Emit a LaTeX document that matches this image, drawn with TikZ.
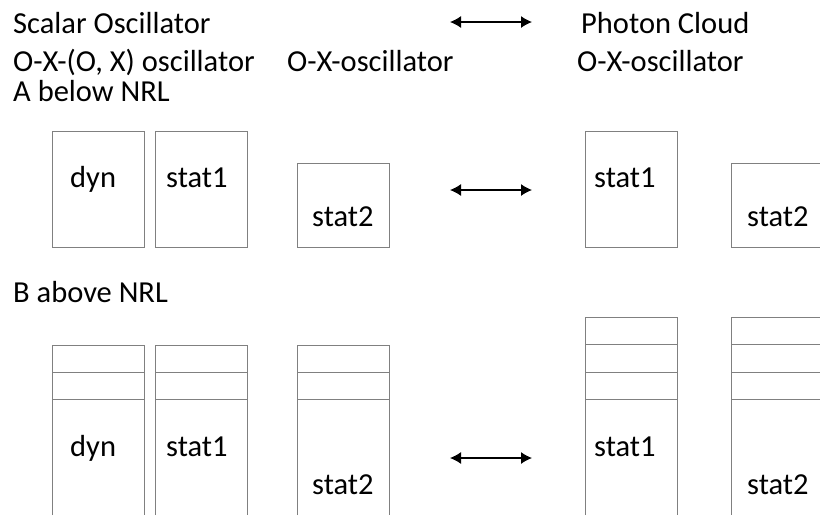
\documentclass[tikz,border=0pt]{standalone}
\usepackage{fontspec}
\setmainfont{Carlito}
\usetikzlibrary{arrows.meta}

\tikzset{
  txt/.style={anchor=base west,inner sep=0pt,font=\fontsize{30.5}{36}\selectfont},
  cell/.style={draw=black!50,line width=1pt},
  swap/.style={{Latex[length=11pt,width=12pt]}-{Latex[length=11pt,width=12pt]},line width=1.2pt}
}

\begin{document}
\begin{tikzpicture}[x=1pt,y=-1pt]
      \useasboundingbox (0,0) rectangle (820,515);

      % headings
      \node[txt] (title) at (13,33) {Scalar Oscillator};
      \node[txt] (oxox) at (13,71) {O-X-(O, X) oscillator};
      \node[txt] (oxl) at (287,71) {O-X-oscillator};
      \node[txt] (cloud) at (581,33) {Photon Cloud};
      \node[txt] (oxr) at (577,71) {O-X-oscillator};
      \node[txt] (below) at (13,101) {A below NRL};
      \node[txt] (above) at (13,302) {B above NRL};

      \coordinate (topl) at (450,22);
      \coordinate (topr) at (532,22);
      \draw[swap] (topl) -- (topr);

      % A: below NRL
      \draw[cell] (52,131) rectangle (144,247);
      \draw[cell] (155,131) rectangle (247,247);
      \draw[cell] (297,163) rectangle (389,247);
      \draw[cell] (585,131) rectangle (677,247);
      \draw[cell] (820,163) -- (731,163) -- (731,247) -- (820,247);

      \node[txt] (dynA) at (70,187) {dyn};
      \node[txt] (statA) at (166,187) {stat1};
      \node[txt] (statB) at (312,226) {stat2};
      \node[txt] (cstatA) at (594,187) {stat1};
      \node[txt] (cstatB) at (747,226) {stat2};

      \coordinate (midl) at (450,190);
      \coordinate (midr) at (532,190);
      \draw[swap] (midl) -- (midr);

      % B: above NRL, stacks run off the bottom
      \draw[cell] (52,515) -- (52,345) -- (144,345) -- (144,515);
      \draw[cell] (52,372) -- (144,372) (52,399) -- (144,399);
      \draw[cell] (155,515) -- (155,345) -- (247,345) -- (247,515);
      \draw[cell] (155,372) -- (247,372) (155,399) -- (247,399);
      \draw[cell] (297,515) -- (297,345) -- (389,345) -- (389,515);
      \draw[cell] (297,372) -- (389,372) (297,399) -- (389,399);
      \draw[cell] (585,515) -- (585,317) -- (677,317) -- (677,515);
      \draw[cell] (585,344) -- (677,344) (585,372) -- (677,372) (585,399) -- (677,399);
      \draw[cell] (820,317) -- (731,317) -- (731,515);
      \draw[cell] (731,344) -- (820,344) (731,372) -- (820,372) (731,399) -- (820,399);

      \node[txt] (dynC) at (70,456) {dyn};
      \node[txt] (statC) at (166,456) {stat1};
      \node[txt] (statD) at (312,494) {stat2};
      \node[txt] (cstatC) at (594,456) {stat1};
      \node[txt] (cstatD) at (747,494) {stat2};

      \coordinate (lowl) at (450,458);
      \coordinate (lowr) at (532,458);
      \draw[swap] (lowl) -- (lowr);
    \end{tikzpicture}
\end{document}
